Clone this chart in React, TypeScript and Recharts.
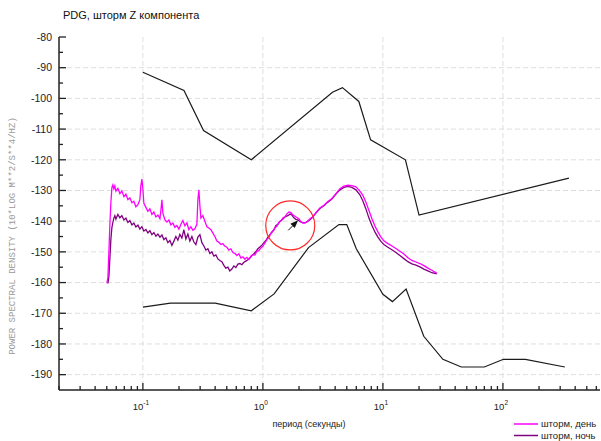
import {
  CartesianGrid,
  Legend,
  Line,
  LineChart,
  ReferenceDot,
  ReferenceLine,
  XAxis,
  YAxis,
} from "recharts";

const FONT = '"Liberation Sans", Arial, sans-serif';
const AXIS_COLOR = "#222";

// high / low noise model envelopes
const nhnmPeriod = [0.1, 0.22, 0.32, 0.8, 3.8, 4.6, 6.3, 7.9, 15.4, 20, 354.8];
const nhnmPsd = [-91.5, -97.4, -110.5, -120, -98, -96.5, -101, -113.5, -120, -138, -126];

const nlnmPeriod = [0.1, 0.17, 0.4, 0.8, 1.24, 2.4, 4.3, 5, 6, 10, 12, 15.6, 21.9, 31.6, 45, 70, 101, 154, 328];
const nlnmPsd = [-168, -166.7, -166.7, -169.2, -163.7, -148.6, -141.1, -141.1, -149, -163.8, -166.2, -162.1, -177.5, -185, -187.5, -187.5, -185, -185, -187.5];

// storm, day
const dayPeriod = [
  0.0501, 0.0511, 0.0521, 0.0531, 0.0541, 0.0552, 0.0562, 0.0573, 0.0584, 0.0596, 0.0619, 0.0643, 0.0668, 0.0695,
  0.0722, 0.075, 0.0779, 0.081, 0.0841, 0.0874, 0.0909, 0.0944, 0.0962, 0.0981, 0.1, 0.1019, 0.1059, 0.1101, 0.1144,
  0.1189, 0.1235, 0.1284, 0.1334, 0.1387, 0.1413, 0.1441, 0.1468, 0.1525, 0.1585, 0.1647, 0.1711, 0.1778, 0.1848,
  0.192, 0.1995, 0.2073, 0.2154, 0.2239, 0.2326, 0.2417, 0.2512, 0.261, 0.2712, 0.2818, 0.2873, 0.2929, 0.2985,
  0.3043, 0.3162, 0.3286, 0.3415, 0.3548, 0.3687, 0.3831, 0.3981, 0.4137, 0.4299, 0.4467, 0.4642, 0.4823, 0.5012,
  0.5208, 0.5412, 0.5623, 0.5843, 0.6072, 0.631, 0.6556, 0.6813, 0.7079, 0.7356, 0.7644, 0.7943, 0.8254, 0.8577,
  0.8913, 0.9261, 0.9624, 1.0, 1.039, 1.08, 1.122, 1.166, 1.212, 1.259, 1.308, 1.359, 1.413, 1.468, 1.525, 1.585,
  1.647, 1.711, 1.778, 1.848, 1.92, 1.995, 2.073, 2.154, 2.239, 2.326, 2.417, 2.512, 2.61, 2.764, 2.985, 3.224,
  3.481, 3.758, 4.058, 4.382, 4.732, 5.109, 5.517, 5.957, 6.431, 6.813, 7.218, 7.647, 8.1, 8.577, 9.085, 9.623,
  10.19, 11.01, 11.89, 12.83, 13.86, 14.96, 16.16, 17.45, 18.84, 20.34, 21.96, 23.71, 25.6, 28.18,
];
const dayPsd = [
  -160.2, -158.5, -150, -141, -134, -129, -128.2, -129.5, -128.5, -130.2, -129.3, -131.0, -130.1, -132.0,
  -131.2, -133.0, -132.4, -134.0, -133.5, -135.3, -134.6, -133.0, -128.5, -126.3, -129.5, -134.2, -135.5, -136.8, -136.0,
  -137.8, -137.0, -138.6, -138.0, -139.2, -136.5, -133.0, -137.5, -139.5, -140.3, -139.6, -141.2, -140.6, -142.0,
  -141.4, -142.6, -141.0, -139.8, -141.5, -140.5, -142.8, -141.8, -143.0, -142.5, -141.0, -133.0, -129.8, -135.0,
  -139.0, -138.2, -140.0, -141.8, -142.2, -142.8, -143.9, -145.0, -146.5, -146.9, -147.6, -147.3, -148.2, -148.5,
  -149.4, -149.0, -150.2, -150.5, -151.2, -150.6, -152.0, -151.6, -152.4, -151.8, -152.5, -151.4, -150.9, -151.0,
  -149.8, -149.6, -148.7, -148.2, -147.1, -146.0, -145.3, -144.0, -143.3, -142.2, -141.6, -140.4, -139.9, -139.0, -138.6, -137.6,
  -137.0, -137.2, -138.0, -138.4, -138.8, -139.2, -140.2, -140.6, -140.6, -140.2, -139.6, -139.0, -138.6, -137.2, -135.7, -134.8,
  -133.6, -132.6, -131.0, -129.4, -128.6, -128.3, -128.4, -128.8, -130.2, -131.6, -133.8, -136.5, -139.2, -141.6, -143.5, -145.2,
  -146.4, -147.3, -148.1, -148.9, -149.8, -150.7, -151.9, -152.8, -153.3, -153.8, -154.5, -155.3, -156.0, -157.0,
];

// storm, night
const nightPeriod = [
  0.0511, 0.0521, 0.0531, 0.0541, 0.0552, 0.0562, 0.0573, 0.0584, 0.0596, 0.0619, 0.0643, 0.0668, 0.0695, 0.0722,
  0.075, 0.0779, 0.081, 0.0841, 0.0874, 0.0909, 0.0944, 0.0981, 0.1019, 0.1059, 0.1101, 0.1144, 0.1189, 0.1235,
  0.1284, 0.1334, 0.1387, 0.1441, 0.1496, 0.1555, 0.1615, 0.1679, 0.1744, 0.1812, 0.1883, 0.1957, 0.2033, 0.2113,
  0.2195, 0.2281, 0.2371, 0.2463, 0.256, 0.2659, 0.2763, 0.2873, 0.2985, 0.3102, 0.3223, 0.3349, 0.348, 0.3616,
  0.3758, 0.3905, 0.4057, 0.4217, 0.438, 0.455, 0.473, 0.491, 0.511, 0.53, 0.551, 0.573, 0.595, 0.619, 0.643,
  0.668, 0.694, 0.721, 0.75, 0.779, 0.81, 0.841, 0.875, 0.909, 0.944, 0.981, 1.019, 1.059, 1.101, 1.144, 1.189,
  1.235, 1.284, 1.334, 1.387, 1.441, 1.496, 1.555, 1.615, 1.679, 1.744, 1.812, 1.883, 1.957, 2.033, 2.113, 2.195,
  2.281, 2.371, 2.463, 2.56, 2.764, 2.985, 3.224, 3.481, 3.758, 4.058, 4.382, 4.732, 5.109, 5.517, 5.957, 6.431,
  6.813, 7.218, 7.647, 8.1, 8.577, 9.085, 9.623, 10.19, 11.01, 11.89, 12.83, 13.86, 14.96, 16.16, 17.45, 18.84,
  20.34, 21.96, 23.71, 25.6, 28.18,
];
const nightPsd = [
  -160.3, -158, -152, -146, -142, -140.5, -139.0, -138.2, -139.3, -137.8, -138.9, -138.2, -139.6, -139.0,
  -140.4, -139.8, -141.2, -140.6, -141.9, -141.3, -142.6, -141.8, -143.2, -142.7, -143.8, -143.1, -144.4, -143.7,
  -144.9, -144.2, -145.2, -144.5, -146.0, -145.4, -147.0, -146.3, -147.9, -146.5, -145.0, -146.2, -144.3, -145.5,
  -142.8, -145.8, -144.2, -146.5, -145.0, -146.8, -147.6, -145.2, -144.4, -147.0, -148.1, -149.4, -149.0, -150.5,
  -150.0, -151.4, -151.0, -152.3, -152.8, -153.2, -154.4, -155.3, -155.0, -156.2, -155.6, -154.6, -155.1, -154.0, -153.8,
  -154.2, -153.4, -153.0, -152.6, -152.0, -151.2, -150.6, -149.9, -149.0, -148.4, -147.8, -147.0, -146.3, -145.2, -144.4, -143.5,
  -142.8, -141.4, -141.0, -140.1, -139.6, -139.0, -138.4, -138.2, -137.7, -138.0, -138.9, -139.4, -139.6, -140.1, -140.4, -140.5,
  -140.4, -140.0, -139.5, -139.0, -137.4, -135.9, -135.0, -133.8, -132.8, -131.2, -129.8, -129.0, -128.7, -129.0, -129.8, -131.4,
  -133.4, -136.0, -139.0, -141.4, -143.5, -145.2, -146.6, -147.6, -148.5, -149.3, -150.2, -151.2, -152.2, -153.2, -153.9, -154.3,
  -154.9, -155.6, -156.2, -156.8, -157.2,
];

const decadeTicks = [0.1, 1, 10, 100];
const decadeExponents = ["-1", "0", "1", "2"];
const periodTicks = [
  0.02, 0.03, 0.04, 0.05, 0.06, 0.07, 0.08, 0.09, 0.1, 0.2, 0.3, 0.4, 0.5, 0.6, 0.7, 0.8, 0.9, 1,
  2, 3, 4, 5, 6, 7, 8, 9, 10, 20, 30, 40, 50, 60, 70, 80, 90, 100, 200, 300, 400, 500, 600,
];
const psdTicks = [
  -190, -185, -180, -175, -170, -165, -160, -155, -150, -145, -140, -135, -130, -125, -120, -115, -110, -105,
  -100, -95, -90, -85, -80,
];
const gridPsd = [-190, -180, -170, -160, -150, -140, -130, -120, -110, -100, -90];

const zip = (p: number[], v: number[]) => p.map((period, i) => ({ period, psd: v[i] }));
const nhnm = zip(nhnmPeriod, nhnmPsd);
const nlnm = zip(nlnmPeriod, nlnmPsd);
const day = zip(dayPeriod, dayPsd);
const night = zip(nightPeriod, nightPsd);

function PeriodTick(props: any) {
  const { x, y, payload } = props;
  const i = decadeTicks.indexOf(payload.value);
  const major = i >= 0;
  return (
    <g>
      <line x1={x} x2={x} y1={y} y2={y - (major ? 7 : 4)} stroke={AXIS_COLOR} strokeWidth={1.3} />
      {major && (
        <text x={x - 2} y={y + 20} textAnchor="middle" fontSize={9.5} fill="#222" fontFamily={FONT}>
          10
          <tspan dy={-5} fontSize={6.5}>
            {decadeExponents[i]}
          </tspan>
        </text>
      )}
    </g>
  );
}

function PsdTick(props: any) {
  const { x, y, payload } = props;
  const major = payload.value % 10 === 0;
  return (
    <g>
      <line x1={x} x2={x + (major ? 7 : 4)} y1={y} y2={y} stroke={AXIS_COLOR} strokeWidth={1.3} />
      {major && (
        <text x={x - 7} y={y} dy="0.36em" textAnchor="end" fontSize={10.5} fill="#222" fontFamily={FONT}>
          {payload.value}
        </text>
      )}
    </g>
  );
}

function Arrow(props: any) {
  const { x1, y1, x2, y2 } = props;
  const a = Math.atan2(y2 - y1, x2 - x1);
  const bx = x2 - 8 * Math.cos(a);
  const by = y2 - 8 * Math.sin(a);
  const px = -Math.sin(a) * 3;
  const py = Math.cos(a) * 3;
  return (
    <g>
      <line x1={x1} y1={y1} x2={bx} y2={by} stroke="#111" strokeWidth={1} />
      <polygon points={`${x2},${y2} ${bx + px},${by + py} ${bx - px},${by - py}`} fill="#111" />
    </g>
  );
}

function LegendBox(props: any) {
  const items = (props.payload || []).filter((p: any) => p.type !== "none");
  return (
    <svg width={90} height={22}>
      {items.map((item: any, i: number) => (
        <g key={item.value}>
          <line x1={3} x2={27} y1={5 + i * 11.5} y2={5 + i * 11.5} stroke={item.color} strokeWidth={1.5} />
          <text x={30} y={5 + i * 11.5} dy="0.35em" fontSize={9.5} fill="#222" fontFamily={FONT}>
            {item.value}
          </text>
        </g>
      ))}
    </svg>
  );
}

export default function App() {
  return (
    <div style={{ position: "absolute", left: 0, top: 0, width: 601, height: 441, background: "#fff", fontFamily: FONT }}>
      <LineChart width={601} height={441} margin={{ top: 37, right: 1, bottom: 21, left: 0 }}>
        <CartesianGrid
          stroke="#dedede"
          strokeDasharray="5 3"
          horizontalValues={gridPsd}
          verticalValues={decadeTicks}
        />
        <XAxis
          type="number"
          dataKey="period"
          scale="log"
          domain={[0.02, 644]}
          allowDataOverflow
          ticks={periodTicks}
          interval={0}
          height={30}
          tickSize={0}
          tickMargin={0}
          tickLine={false}
          axisLine={{ stroke: AXIS_COLOR, strokeWidth: 1.5 }}
          tick={<PeriodTick />}
          label={{
            content: () => (
              <text x={309} y={427} textAnchor="middle" fontSize={9} fill="#222" fontFamily={FONT}>
                период (секунды)
              </text>
            ),
          }}
        />
        <YAxis
          type="number"
          dataKey="psd"
          domain={[-195, -80]}
          allowDataOverflow
          ticks={psdTicks}
          interval={0}
          width={59}
          tickSize={0}
          tickMargin={0}
          tickLine={false}
          axisLine={{ stroke: AXIS_COLOR, strokeWidth: 1.5 }}
          tick={<PsdTick />}
          label={{
            content: () => (
              <text
                x={12}
                y={236}
                transform="rotate(-90 12 236)"
                textAnchor="middle"
                dy="0.35em"
                fontSize={9}
                fill="#9a9a9a"
                fontFamily='"Liberation Mono", "DejaVu Sans Mono", monospace'
              >
                POWER SPECTRAL DENSITY (10*LOG M**2/S**4/HZ)
              </text>
            ),
          }}
        />
        <Legend
          layout="vertical"
          align="center"
          verticalAlign="middle"
          wrapperStyle={{ left: 511, top: 419, width: 90, height: 22 }}
          content={<LegendBox />}
        />
        <Line data={nhnm} dataKey="psd" stroke="#1a1a1a" strokeWidth={1.2} dot={false} activeDot={false} legendType="none" isAnimationActive={false} />
        <Line data={nlnm} dataKey="psd" stroke="#1a1a1a" strokeWidth={1.2} dot={false} activeDot={false} legendType="none" isAnimationActive={false} />
        <Line data={night} dataKey="psd" name="шторм, ночь" stroke="#800080" strokeWidth={1.3} dot={false} activeDot={false} isAnimationActive={false} />
        <Line data={day} dataKey="psd" name="шторм, день" stroke="#ff00ff" strokeWidth={1.3} dot={false} activeDot={false} isAnimationActive={false} />
        <ReferenceDot x={1.69} y={-141.4} r={24.5} fill="none" stroke="#ff2a2a" strokeWidth={1.2} />
        <ReferenceLine
          segment={[
            { x: 1.625, y: -143 },
            { x: 1.968, y: -139.7 },
          ]}
          shape={<Arrow />}
        />
      </LineChart>
      <div
        style={{
          position: "absolute",
          left: 63,
          top: 9,
          fontSize: 11,
          lineHeight: "12px",
          color: "#111",
          whiteSpace: "nowrap",
        }}
      >
        PDG, шторм Z компонента
      </div>
    </div>
  );
}
